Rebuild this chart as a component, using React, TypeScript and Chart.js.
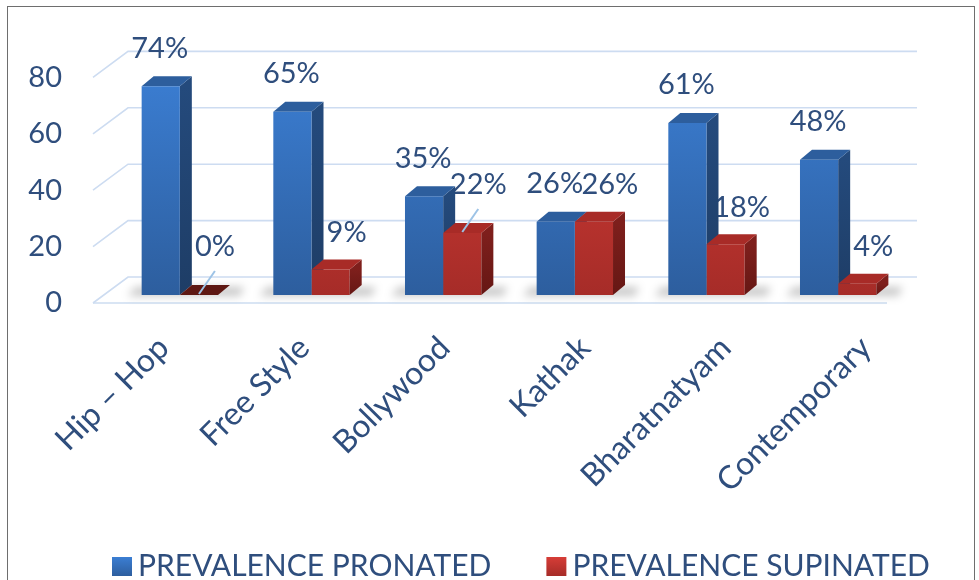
import React, { useEffect, useRef } from "react";
import { Chart, registerables } from "chart.js";
Chart.register(...registerables);

const categories = ["Hip – Hop", "Free Style", "Bollywood", "Kathak", "Bharatnatyam", "Contemporary"];
const pronated = [74, 65, 35, 26, 61, 48];
const supinated = [0, 9, 22, 26, 18, 4];
const seriesNames = ["PREVALENCE PRONATED", "PREVALENCE SUPINATED"];
const yTickValues = [0, 20, 40, 60, 80];
const supinatedLeader = [true, false, true, false, false, false];

const FONT = "Lato, 'Open Sans', sans-serif";
const TEXT = "#2F4E7D";
const DX = 12;
const DY = 10;

const BLUE = { front1: "#3B7ED3", front2: "#2D5E9E", side: "#244A7C", side2: "#1E3D66", top: "#2D5E9D" };
const RED = { front1: "#D63D37", front2: "#A62C28", side: "#7E1F1C", side2: "#661714", top: "#A82B27", zero: "#5E1813" };

function vGrad(ctx: CanvasRenderingContext2D, top: number, bottom: number, c1: string, c2: string) {
  const g = ctx.createLinearGradient(0, top, 0, bottom);
  g.addColorStop(0, c1);
  g.addColorStop(1, c2);
  return g;
}

function poly(ctx: CanvasRenderingContext2D, pts: number[][], fill: any) {
  ctx.beginPath();
  ctx.moveTo(pts[0][0], pts[0][1]);
  for (let i = 1; i < pts.length; i++) ctx.lineTo(pts[i][0], pts[i][1]);
  ctx.closePath();
  ctx.fillStyle = fill;
  ctx.fill();
}

function drawFaces(ctx: CanvasRenderingContext2D, el: any, pal: any, zero: boolean) {
  const l = el.x - el.width / 2;
  const r = el.x + el.width / 2;
  const t = el.y;
  const b = el.base;
  if (b - t > 0.5) {
    poly(ctx, [[r, t], [r + DX, t - DY], [r + DX, b - DY], [r, b]], vGrad(ctx, t, b, pal.side, pal.side2));
  }
  poly(ctx, [[l, t], [l + DX, t - DY], [r + DX, t - DY], [r, t]], zero ? pal.zero : pal.top);
}

const bars3d = {
  id: "bars3d",
  beforeDatasetsDraw(chart: any) {
    const ctx: CanvasRenderingContext2D = chart.ctx;
    const a = chart.chartArea;
    const ys = chart.scales.y;
    ctx.save();
    ctx.strokeStyle = "#CDDCF1";
    ctx.lineWidth = 1.6;
    const fx = a.left - 21;
    const bx = a.left + 14;
    const rx = a.right + 13;
    yTickValues.forEach((v) => {
      const py = ys.getPixelForValue(v);
      ctx.beginPath();
      ctx.moveTo(fx, py + 8);
      ctx.lineTo(bx, py - 18);
      ctx.lineTo(rx, py - 18);
      ctx.stroke();
    });
    const p0 = ys.getPixelForValue(0);
    ctx.beginPath();
    ctx.moveTo(fx, p0 + 8);
    ctx.lineTo(a.right - 17, p0 + 8);
    ctx.stroke();

    const m0 = chart.getDatasetMeta(0).data;
    const m1 = chart.getDatasetMeta(1).data;
    ctx.save();
    ctx.filter = "blur(4px)";
    for (let j = 0; j < m0.length; j++) {
      const b = m0[j];
      const r = m1[j];
      const left = b.x - b.width / 2;
      const right = r.x + r.width / 2;
      const base = b.base;
      poly(ctx, [[left - 14, base + 1], [right + DX + 10, base + 1], [right + DX + 14, base - DY + 2], [left - 6, base - DY + 2]], "rgba(0,0,0,0.22)");
    }
    ctx.restore();

    ctx.font = `29px ${FONT}`;
    ctx.fillStyle = TEXT;
    ctx.textAlign = "center";
    ctx.textBaseline = "middle";
    for (let j = 0; j < m0.length; j++) {
      const b = m0[j];
      ctx.fillText(`${pronated[j]}%`, b.x - 1, b.y - 38);
      const r = m1[j];
      const dy = supinatedLeader[j] ? -48 : -37;
      ctx.fillText(`${supinated[j]}%`, r.x + 16, r.y + dy);
    }

    for (let j = 0; j < m0.length; j++) drawFaces(ctx, m0[j], BLUE, pronated[j] === 0);
    ctx.restore();
  },
  afterDatasetsDraw(chart: any) {
    const ctx: CanvasRenderingContext2D = chart.ctx;
    const m1 = chart.getDatasetMeta(1).data;
    ctx.save();
    for (let j = 0; j < m1.length; j++) drawFaces(ctx, m1[j], RED, supinated[j] === 0);
    ctx.strokeStyle = "#9DC3E6";
    ctx.lineWidth = 2;
    for (let j = 0; j < m1.length; j++) {
      if (!supinatedLeader[j]) continue;
      const r = m1[j];
      ctx.beginPath();
      ctx.moveTo(r.x, r.y - 1);
      ctx.lineTo(r.x + 16, r.y - 24);
      ctx.stroke();
    }
    ctx.restore();
  },
  afterDraw(chart: any) {
    const ctx: CanvasRenderingContext2D = chart.ctx;
    const a = chart.chartArea;
    ctx.save();
    ctx.font = `30px ${FONT}`;
    ctx.textBaseline = "middle";
    ctx.textAlign = "left";
    let x = a.left - 2;
    const cy = 566;
    const cols = [BLUE, RED];
    seriesNames.forEach((name, i) => {
      const pal = cols[i];
      poly(ctx, [[x, cy - 9], [x + 20, cy - 9], [x + 20, cy + 10], [x, cy + 10]], vGrad(ctx, cy - 9, cy + 10, pal.front1, pal.front2));
      x += 26;
      ctx.fillStyle = TEXT;
      ctx.fillText(name, x, cy);
      x += ctx.measureText(name).width + 55;
    });
    ctx.restore();
  },
};

export default function App() {
  const ref = useRef<HTMLCanvasElement>(null);
  useEffect(() => {
    if (!ref.current) return;
    const chart = new Chart(ref.current, {
      type: "bar",
      data: {
        labels: categories,
        datasets: [
          {
            label: seriesNames[0],
            data: pronated,
            backgroundColor: (c: any) => {
              const a = c.chart.chartArea;
              if (!a) return BLUE.front1;
              return vGrad(c.chart.ctx, a.top, a.bottom, BLUE.front1, BLUE.front2);
            },
            borderWidth: 0,
          },
          {
            label: seriesNames[1],
            data: supinated,
            backgroundColor: (c: any) => {
              const a = c.chart.chartArea;
              if (!a) return RED.front1;
              return vGrad(c.chart.ctx, a.top, a.bottom, RED.front1, RED.front2);
            },
            borderWidth: 0,
          },
        ],
      },
      options: {
        responsive: false,
        animation: false,
        events: [],
        layout: { padding: { left: 0, right: 75, top: 69, bottom: 0 } },
        datasets: { bar: { categoryPercentage: 0.58, barPercentage: 1.0 } },
        plugins: { legend: { display: false }, tooltip: { enabled: false } },
        scales: {
          x: { display: false },
          xLabels: {
            type: "linear",
            position: "bottom",
            bounds: "data",
            offset: false,
            min: -0.353,
            max: 5.271,
            grid: { display: false, drawTicks: false, offset: false },
            border: { display: false },
            afterBuildTicks: (s: any) => {
              s.ticks = categories.map((_, i) => ({ value: i }));
            },
            ticks: {
              minRotation: 45,
              maxRotation: 45,
              autoSkip: false,
              padding: 34,
              color: TEXT,
              font: { family: FONT, size: 32 },
              callback: (_v: any, i: number) => categories[i],
            },
            afterFit: (s: any) => {
              s.height = 285;
            },
          },
          y: {
            min: 0,
            max: 80,
            grid: { display: false, drawTicks: false },
            border: { display: false },
            ticks: {
              stepSize: 20,
              padding: 52,
              labelOffset: 8,
              color: TEXT,
              font: { family: FONT, size: 29 },
            },
            afterFit: (s: any) => {
              s.width = 114;
            },
          },
        },
      },
      plugins: [bars3d],
    });
    return () => chart.destroy();
  }, []);
  return (
    <div style={{ position: "absolute", left: 0, top: 0, width: 979, height: 580, overflow: "hidden", background: "#fff" }}>
      <div style={{ position: "absolute", left: 7, top: 6, width: 966, height: 700, border: "1.5px solid #6E6E6E" }} />
      <canvas ref={ref} width={979} height={580} style={{ position: "absolute", left: 0, top: 0 }} />
    </div>
  );
}
